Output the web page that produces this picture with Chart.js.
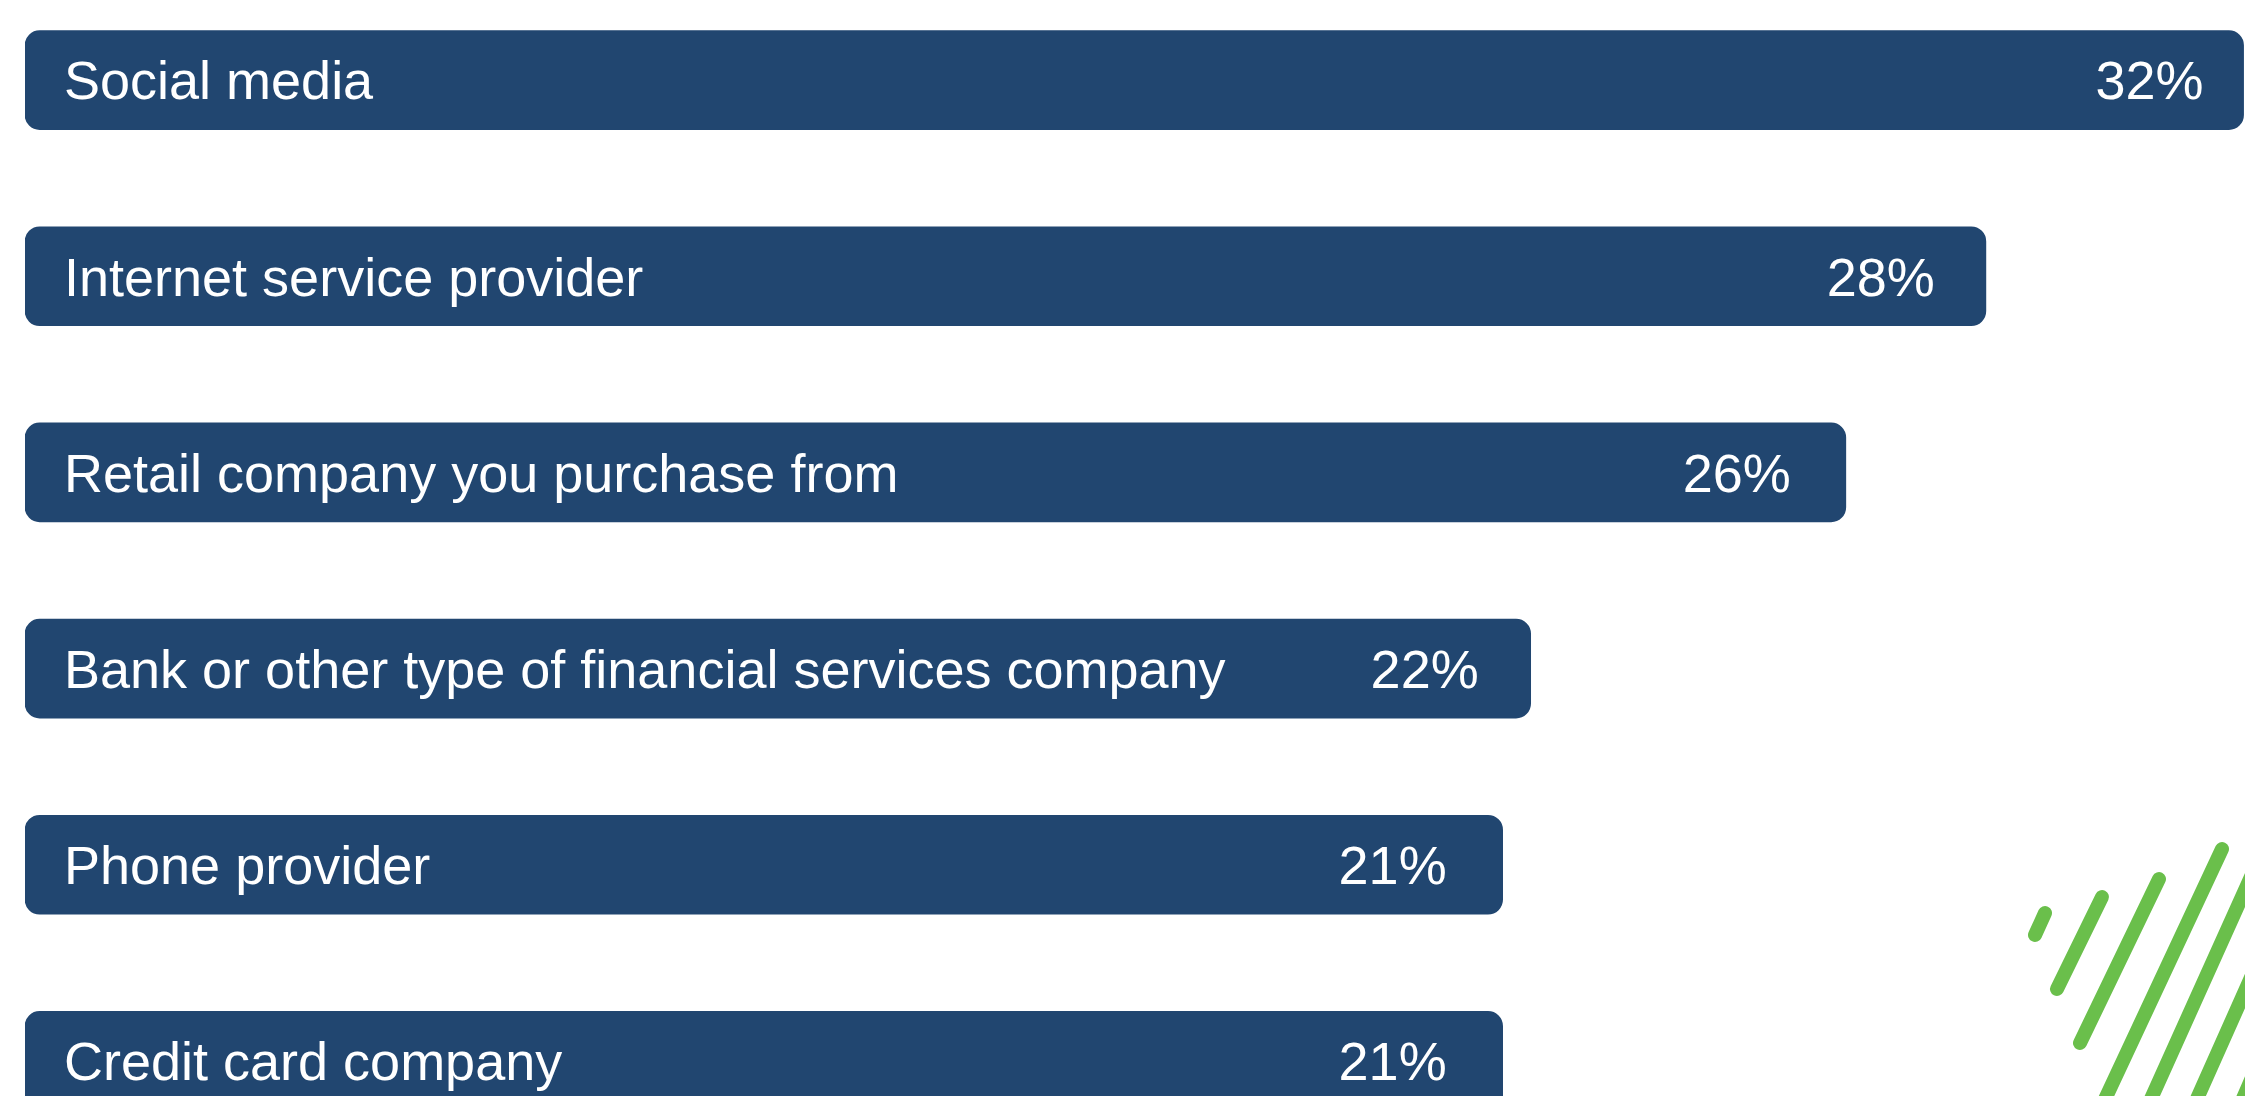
<!DOCTYPE html>
<html>
<head>
<meta charset="utf-8">
<script src="https://cdn.jsdelivr.net/npm/chart.js@4.4.1/dist/chart.umd.min.js"></script>
<style>
  html, body { margin: 0; padding: 0; background: #ffffff; overflow: hidden; }
  body { width: 2245px; height: 1096px; position: relative; }
  #wrap { position: absolute; left: 0; top: -18px; width: 2245px; height: 1177px; }
  #deco { position: absolute; left: 0; top: 0; width: 2245px; height: 1096px; pointer-events: none; }
</style>
</head>
<body>
<div id="wrap"><canvas id="myChart"></canvas></div>
<svg id="deco" width="2245" height="1096" viewBox="0 0 2245 1096">
  <g stroke="#6abf4b" stroke-width="14" stroke-linecap="round" fill="none">
    <line x1="2045" y1="913" x2="2035" y2="935"/>
    <line x1="2102" y1="897" x2="2057" y2="989"/>
    <line x1="2159" y1="879" x2="2080" y2="1043"/>
    <line x1="2222" y1="849" x2="2100" y2="1110"/>
    <line x1="2290" y1="790" x2="2146" y2="1110"/>
    <line x1="2290" y1="890" x2="2192" y2="1110"/>
    <line x1="2290" y1="990" x2="2238" y2="1110"/>
  </g>
</svg>
<script>
const categories = [
  'Social media',
  'Internet service provider',
  'Retail company you purchase from',
  'Bank or other type of financial services company',
  'Phone provider',
  'Credit card company'
];
// bar lengths (labels show them rounded)
const shares = [31.68, 28, 26, 21.5, 21.1, 21.1];

const barColor = '#214670';
const fontSize = 54;
const labelFont = fontSize + 'px "Liberation Sans", Arial, sans-serif';
// how far the value text sits in from the end of each bar
const valueInset = [40, 51, 55, 52, 56, 56];

// writes the category name and the value inside each bar
const barText = {
  id: 'barText',
  afterDatasetsDraw(chart) {
    const ctx = chart.ctx;
    const meta = chart.getDatasetMeta(0);
    const shift = fontSize * 0.716 / 2;
    ctx.save();
    ctx.font = labelFont;
    ctx.fillStyle = '#ffffff';
    ctx.textBaseline = 'alphabetic';
    meta.data.forEach((bar, i) => {
      ctx.textAlign = 'left';
      ctx.fillText(categories[i], bar.base + 39, bar.y + shift);
      ctx.textAlign = 'right';
      ctx.fillText(Math.round(shares[i]) + '%', bar.x - valueInset[i], bar.y + shift);
    });
    ctx.restore();
  }
};

const ctx = document.getElementById('myChart');

let chart = new Chart(ctx, {
  type: 'bar',
  data: {
    labels: categories,
    datasets: [{
      data: shares,
      backgroundColor: barColor,
      borderWidth: 0,
      borderRadius: 15,
      borderSkipped: false,
      barThickness: 99
    }]
  },
  options: {
    indexAxis: 'y',
    responsive: true,
    maintainAspectRatio: false,
    animation: false,
    layout: { padding: { left: 25, right: 0, top: 0, bottom: 0 } },
    plugins: {
      legend: { display: false },
      tooltip: { enabled: false }
    },
    scales: {
      x: { display: false, min: 0, max: 31.7 },
      y: { display: false }
    }
  },
  plugins: [barText]
});
</script>
</body>
</html>
